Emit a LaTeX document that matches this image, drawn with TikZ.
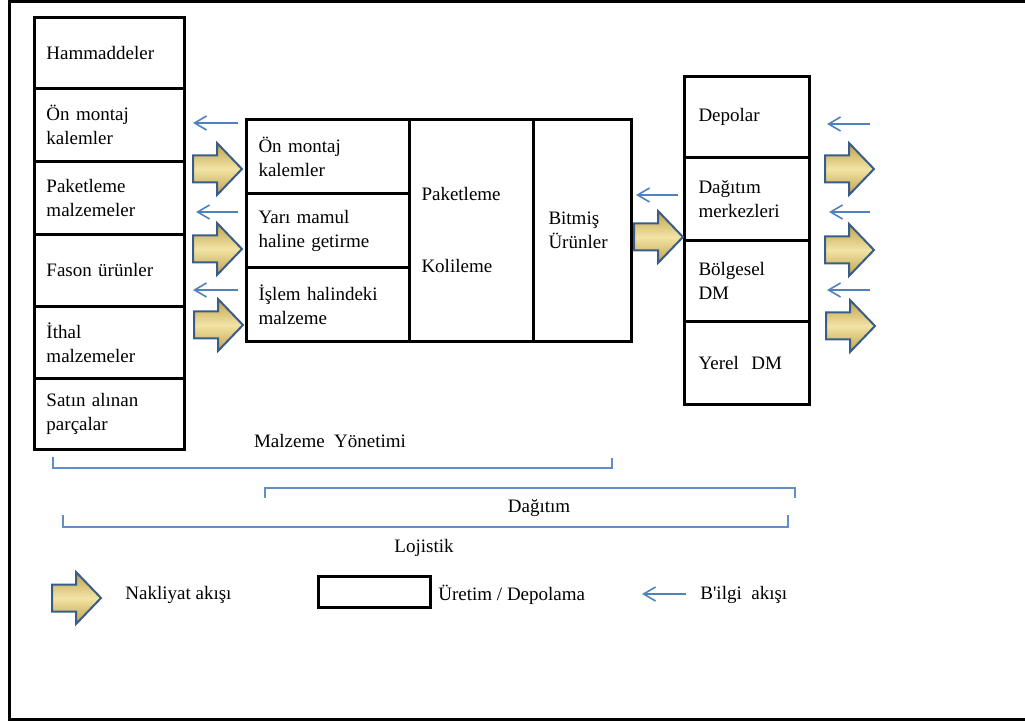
\documentclass[tikz,border=0pt]{standalone}
\usepackage{fontspec}
\setmainfont{Liberation Serif}
\usetikzlibrary{arrows.meta}
\definecolor{infoblue}{RGB}{79,129,189}
\definecolor{golddark}{RGB}{192,160,74}
\definecolor{goldlight}{RGB}{242,228,165}
\definecolor{arrowedge}{RGB}{56,93,138}
\tikzset{
  box/.style={draw, line width=1.5pt, anchor=north west, align=left, inner xsep=6pt, inner ysep=0pt},
  info/.style={draw=infoblue, line width=0.8pt, -{Straight Barb[length=6pt,width=7pt]}},
  span/.style={draw=infoblue!90, line width=0.6pt},
  label/.style={inner sep=0pt},
  flow/.pic={\path[draw=arrowedge, line width=1pt, line join=miter,
      top color=golddark, bottom color=golddark, middle color=goldlight]
      (0pt,-6.75pt) -- (12pt,-6.75pt) -- (12pt,-13pt) -- (24.5pt,0pt)
      -- (12pt,13pt) -- (12pt,6.75pt) -- (0pt,6.75pt) -- cycle;}
}
\begin{document}
\begin{tikzpicture}[x=0.5pt,y=-0.5pt,font=\fontsize{9.5}{12}\selectfont]
\useasboundingbox (0,0) rectangle (1025,722);
% outer frame
\draw[line width=1.5pt] (1040,1.5) -- (9.5,1.5) -- (9.5,719.5) -- (1040,719.5);

% supply side
\node[box, text width=63pt, minimum height=35.5pt] (ham) at (33,16) {Hammaddeler};
\node[box, text width=63pt, minimum height=36.5pt] (onm) at (33,87) {Ön montaj\\kalemler};
\node[box, text width=63pt, minimum height=36.5pt] (pkm) at (33,160) {Paketleme\\malzemeler};
\node[box, text width=63pt, minimum height=36pt] (fas) at (33,233) {Fason ürünler};
\node[box, text width=63pt, minimum height=36pt] (ith) at (33,305) {İthal\\malzemeler};
\node[box, text width=63pt, minimum height=35.5pt] (sat) at (33,377) {Satın alınan\\parçalar};

% production
\node[box, text width=69.5pt, minimum height=37pt] (m1) at (245,118) {Ön montaj\\kalemler};
\node[box, text width=69.5pt, minimum height=37pt] (m2) at (245,192) {Yarı mamul\\haline getirme};
\node[box, text width=69.5pt, minimum height=37pt] (m3) at (245,266) {İşlem halindeki\\malzeme};
\node[box, text width=50pt, minimum height=111pt] (pk) at (408,118) {Paketleme\\[24pt]Kolileme};
\node[box, inner xsep=7.5pt, text width=34pt, minimum height=111pt] (bu) at (532,118) {Bitmiş\\Ürünler};

% distribution
\node[box, inner xsep=7pt, text width=48.5pt, minimum height=40.5pt] (r1) at (683,75) {Depolar};
\node[box, inner xsep=7pt, text width=48.5pt, minimum height=41.5pt] (r2) at (683,156) {Dağıtım\\merkezleri};
\node[box, inner xsep=7pt, text width=48.5pt, minimum height=40.5pt] (r3) at (683,239) {Bölgesel\\DM};
\node[box, inner xsep=7pt, text width=48.5pt, minimum height=41.5pt] (r4) at (683,320) {Yerel\ \ DM};

% information flow
\draw[info] (238,123) -- (193,123);
\draw[info] (238,212) -- (196,212);
\draw[info] (238,290) -- (193,290);
\draw[info] (678,195) -- (636,195);
\draw[info] (870,124) -- (827,124);
\draw[info] (870,212) -- (829,212);
\draw[info] (870,290) -- (827,290);

% material flow
\pic at (193,169) {flow};
\pic at (193,249) {flow};
\pic at (194,325) {flow};
\pic at (634,237) {flow};
\pic at (825,169) {flow};
\pic at (825,250) {flow};
\pic at (826,326) {flow};

% spans
\node[label] (mylab) at (330,441) {Malzeme\ \ Yönetimi};
\draw[span] (53,457) -- (53,468) -- (612,468) -- (612,458);
\draw[span] (265,498) -- (265,488) -- (795,488) -- (795,498);
\node[label] (dglab) at (539,508) {Dağıtım};
\draw[span] (63,515) -- (63,527) -- (788,527) -- (788,515);
\node[label] (lglab) at (424,548) {Lojistik};

% legend
\pic at (52,598) {flow};
\node[label, anchor=west] (lg1) at (125,595) {Nakliyat\ akışı};
\node[draw, line width=1.5pt, minimum width=56pt, minimum height=15.5pt, inner sep=0pt] (lgbox) at (374,591.5) {};
\node[label, anchor=west] (lg2) at (438,595) {Üretim / Depolama};
\draw[info] (686,594) -- (642,594);
\node[label, anchor=west] (lg3) at (700,595) {B\textquotesingle ilgi\ \ akışı};
\end{tikzpicture}
\end{document}
